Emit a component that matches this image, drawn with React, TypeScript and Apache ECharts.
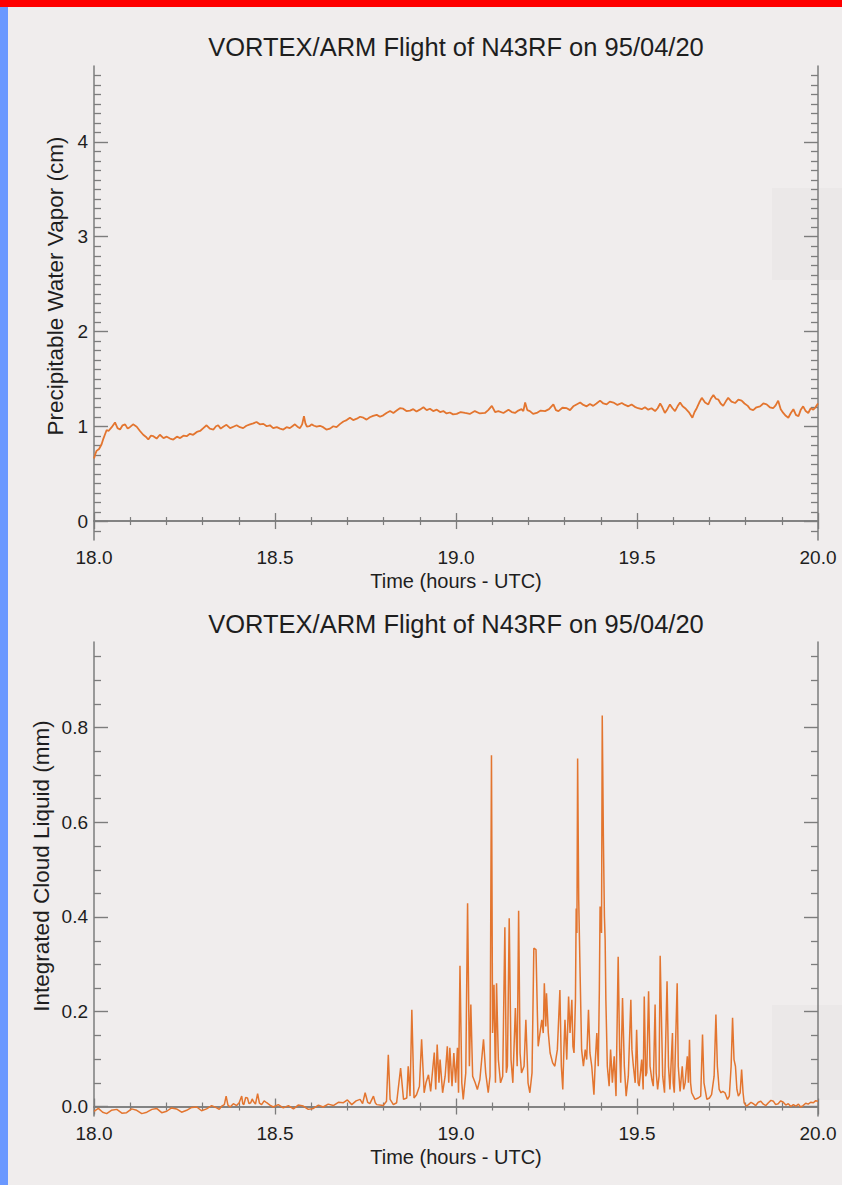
import React, { useEffect, useRef } from "react";
import * as echarts from "echarts";

const FONT = '"Liberation Sans", Arial, Helvetica, sans-serif';
const TITLE = "VORTEX/ARM Flight of N43RF on 95/04/20";
const X_NAME = "Time (hours - UTC)";
const PWV_NAME = "Precipitable Water Vapor (cm)";
const CLW_NAME = "Integrated Cloud Liquid (mm)";

// time axis (hours UTC)
const timeMin = 18.0;
const timeMax = 20.0;
const timeStep = 0.5;

// precipitable water vapour axis (cm)
const pwvMin = -0.2;
const pwvMax = 4.8;
const pwvTicks = [0, 1, 2, 3, 4];
const pwvMinorStep = 0.1;

// integrated cloud liquid axis (mm)
const clwMin = -0.02;
const clwMax = 0.98;
const clwTicks = [0, 0.2, 0.4, 0.6, 0.8];
const clwMinorStep = 0.05;

// [time (h), precipitable water vapour (cm)]
const pwvReadings: [number, number][] = [
  [18.0, 0.66], [18.004, 0.71], [18.007, 0.74], [18.014, 0.76], [18.021, 0.81],
  [18.026, 0.87], [18.03, 0.91], [18.035, 0.96], [18.04, 0.95], [18.049, 0.99],
  [18.058, 1.04], [18.065, 0.98], [18.072, 0.965], [18.079, 1.01], [18.086, 1.02],
  [18.093, 0.975], [18.099, 0.99], [18.108, 1.02], [18.118, 0.995], [18.127, 0.95],
  [18.136, 0.91], [18.143, 0.89], [18.15, 0.86], [18.157, 0.9], [18.164, 0.895],
  [18.173, 0.87], [18.182, 0.91], [18.192, 0.875], [18.201, 0.89], [18.21, 0.87],
  [18.219, 0.86], [18.229, 0.89], [18.238, 0.875], [18.247, 0.9], [18.256, 0.895],
  [18.265, 0.92], [18.274, 0.91], [18.284, 0.94], [18.293, 0.95], [18.302, 0.98],
  [18.311, 1.01], [18.32, 0.975], [18.33, 0.965], [18.337, 1.0], [18.343, 1.01],
  [18.35, 0.975], [18.357, 0.995], [18.366, 1.015], [18.376, 0.98], [18.385, 0.995],
  [18.394, 1.01], [18.403, 0.99], [18.412, 0.98], [18.421, 1.005], [18.431, 1.02],
  [18.44, 1.03], [18.449, 1.045], [18.458, 1.02], [18.468, 1.025], [18.477, 1.0],
  [18.486, 1.01], [18.495, 0.98], [18.505, 0.99], [18.514, 0.975], [18.523, 0.965],
  [18.532, 0.99], [18.541, 0.98], [18.548, 1.0], [18.555, 1.02], [18.562, 0.995],
  [18.569, 0.98], [18.575, 1.02], [18.58, 1.105], [18.584, 1.03], [18.588, 0.995],
  [18.595, 1.0], [18.601, 1.02], [18.608, 1.005], [18.615, 0.995], [18.624, 1.005],
  [18.633, 0.99], [18.642, 0.965], [18.652, 0.975], [18.661, 1.0], [18.67, 0.99],
  [18.68, 1.025], [18.689, 1.05], [18.698, 1.065], [18.707, 1.09], [18.716, 1.065],
  [18.726, 1.08], [18.735, 1.1], [18.744, 1.09], [18.753, 1.07], [18.762, 1.095],
  [18.771, 1.11], [18.781, 1.12], [18.79, 1.1], [18.799, 1.115], [18.808, 1.14],
  [18.818, 1.16], [18.827, 1.14], [18.836, 1.165], [18.845, 1.19], [18.854, 1.185],
  [18.863, 1.16], [18.873, 1.165], [18.882, 1.18], [18.891, 1.155], [18.9, 1.175],
  [18.91, 1.2], [18.919, 1.17], [18.928, 1.185], [18.937, 1.16], [18.947, 1.175],
  [18.956, 1.15], [18.965, 1.16], [18.974, 1.135], [18.983, 1.145], [18.992, 1.125],
  [19.002, 1.13], [19.013, 1.15], [19.025, 1.14], [19.038, 1.13], [19.052, 1.16],
  [19.066, 1.135], [19.08, 1.14], [19.089, 1.17], [19.099, 1.215], [19.108, 1.15],
  [19.117, 1.16], [19.131, 1.14], [19.145, 1.175], [19.154, 1.15], [19.163, 1.14],
  [19.172, 1.165], [19.181, 1.18], [19.186, 1.16], [19.191, 1.25], [19.197, 1.17],
  [19.204, 1.16], [19.213, 1.13], [19.223, 1.14], [19.234, 1.165], [19.246, 1.16],
  [19.257, 1.18], [19.269, 1.23], [19.276, 1.17], [19.283, 1.16], [19.294, 1.195],
  [19.306, 1.19], [19.315, 1.17], [19.324, 1.21], [19.333, 1.23], [19.343, 1.25],
  [19.352, 1.225], [19.361, 1.21], [19.37, 1.235], [19.379, 1.215], [19.388, 1.24],
  [19.398, 1.27], [19.407, 1.24], [19.416, 1.23], [19.425, 1.26], [19.435, 1.25],
  [19.446, 1.225], [19.458, 1.245], [19.467, 1.225], [19.476, 1.21], [19.485, 1.23],
  [19.494, 1.205], [19.503, 1.19], [19.513, 1.18], [19.522, 1.2], [19.531, 1.175],
  [19.54, 1.19], [19.55, 1.16], [19.557, 1.19], [19.564, 1.24], [19.57, 1.2],
  [19.577, 1.14], [19.584, 1.18], [19.591, 1.23], [19.598, 1.19], [19.605, 1.16],
  [19.612, 1.21], [19.619, 1.25], [19.626, 1.21], [19.633, 1.19], [19.643, 1.15],
  [19.653, 1.09], [19.659, 1.15], [19.665, 1.19], [19.672, 1.25], [19.679, 1.3],
  [19.688, 1.25], [19.697, 1.23], [19.704, 1.29], [19.711, 1.33], [19.718, 1.29],
  [19.725, 1.28], [19.731, 1.24], [19.738, 1.215], [19.745, 1.26], [19.752, 1.3],
  [19.761, 1.26], [19.771, 1.245], [19.78, 1.28], [19.789, 1.27], [19.797, 1.24],
  [19.806, 1.215], [19.813, 1.18], [19.821, 1.17], [19.83, 1.2], [19.84, 1.21],
  [19.849, 1.24], [19.858, 1.23], [19.867, 1.2], [19.876, 1.19], [19.883, 1.22],
  [19.89, 1.27], [19.897, 1.18], [19.904, 1.14], [19.911, 1.11], [19.918, 1.09],
  [19.925, 1.14], [19.932, 1.18], [19.939, 1.12], [19.946, 1.105], [19.952, 1.17],
  [19.959, 1.21], [19.966, 1.16], [19.973, 1.14], [19.98, 1.19], [19.987, 1.175],
  [19.993, 1.2], [20.0, 1.24],
];

// [time (h), integrated cloud liquid (mm)]
const clwReadings: [number, number][] = [
  [18.0, -0.01], [18.012, -0.004], [18.024, -0.012], [18.035, -0.015], [18.048, -0.008],
  [18.063, -0.006], [18.077, -0.014], [18.09, -0.013], [18.104, -0.005], [18.118, -0.008],
  [18.132, -0.015], [18.146, -0.012], [18.16, -0.006], [18.173, -0.004], [18.187, -0.013],
  [18.201, -0.01], [18.214, -0.003], [18.228, -0.005], [18.242, -0.012], [18.256, -0.008],
  [18.27, -0.002], [18.284, -0.001], [18.297, -0.009], [18.311, -0.005], [18.325, 0.002],
  [18.339, -0.003], [18.346, -0.006], [18.353, 0.001], [18.36, 0.004], [18.365, 0.022],
  [18.37, 0.003], [18.376, -0.001], [18.385, 0.006], [18.394, 0.002], [18.401, 0.008],
  [18.408, 0.022], [18.411, 0.006], [18.414, 0.004], [18.419, 0.019], [18.424, 0.018],
  [18.428, 0.006], [18.433, 0.008], [18.437, 0.016], [18.44, 0.011], [18.446, 0.005],
  [18.452, 0.027], [18.457, 0.007], [18.463, 0.004], [18.47, 0.012], [18.477, 0.008],
  [18.486, 0.003], [18.495, -0.001], [18.509, 0.004], [18.523, -0.003], [18.537, 0.002],
  [18.551, -0.005], [18.564, 0.003], [18.578, 0.001], [18.592, -0.006], [18.606, -0.004],
  [18.62, 0.003], [18.633, -0.001], [18.647, 0.005], [18.661, 0.002], [18.675, 0.009],
  [18.689, 0.008], [18.7, 0.014], [18.712, 0.004], [18.724, 0.012], [18.735, 0.015],
  [18.742, 0.006], [18.749, 0.029], [18.756, 0.009], [18.762, 0.006], [18.767, 0.014],
  [18.772, 0.022], [18.777, 0.008], [18.781, 0.004], [18.799, 0.002], [18.808, 0.011],
  [18.813, 0.109], [18.818, 0.015], [18.827, 0.004], [18.836, 0.008], [18.847, 0.081],
  [18.855, 0.015], [18.864, 0.018], [18.868, 0.085], [18.873, 0.022], [18.878, 0.204],
  [18.884, 0.018], [18.891, 0.025], [18.899, 0.043], [18.905, 0.142], [18.912, 0.029],
  [18.917, 0.05], [18.924, 0.067], [18.93, 0.032], [18.94, 0.114], [18.944, 0.036],
  [18.948, 0.131], [18.953, 0.05], [18.956, 0.099], [18.963, 0.029], [18.97, 0.064],
  [18.976, 0.127], [18.98, 0.05], [18.983, 0.124], [18.989, 0.043], [18.994, 0.113],
  [18.999, 0.05], [19.004, 0.124], [19.007, 0.029], [19.011, 0.297], [19.016, 0.05],
  [19.02, 0.015], [19.027, 0.071], [19.032, 0.429], [19.037, 0.085], [19.041, 0.215],
  [19.046, 0.064], [19.053, 0.05], [19.059, 0.036], [19.066, 0.057], [19.076, 0.142],
  [19.082, 0.071], [19.089, 0.029], [19.094, 0.064], [19.098, 0.741], [19.101, 0.155],
  [19.105, 0.257], [19.109, 0.05], [19.112, 0.26], [19.117, 0.099], [19.123, 0.05],
  [19.129, 0.064], [19.135, 0.378], [19.139, 0.071], [19.142, 0.085], [19.147, 0.397],
  [19.152, 0.099], [19.157, 0.05], [19.164, 0.208], [19.169, 0.085], [19.173, 0.413],
  [19.177, 0.113], [19.181, 0.071], [19.188, 0.085], [19.193, 0.183], [19.199, 0.05],
  [19.204, 0.029], [19.21, 0.071], [19.215, 0.334], [19.221, 0.331], [19.225, 0.19],
  [19.227, 0.127], [19.232, 0.155], [19.237, 0.183], [19.241, 0.155], [19.244, 0.26],
  [19.248, 0.169], [19.25, 0.239], [19.255, 0.155], [19.26, 0.113], [19.267, 0.092],
  [19.273, 0.085], [19.28, 0.12], [19.287, 0.246], [19.291, 0.085], [19.295, 0.036],
  [19.298, 0.12], [19.301, 0.183], [19.306, 0.099], [19.311, 0.232], [19.315, 0.155],
  [19.32, 0.225], [19.323, 0.127], [19.326, 0.113], [19.33, 0.225], [19.332, 0.418],
  [19.334, 0.366], [19.336, 0.734], [19.339, 0.436], [19.343, 0.274], [19.347, 0.12],
  [19.352, 0.085], [19.357, 0.12], [19.361, 0.099], [19.366, 0.204], [19.37, 0.113],
  [19.375, 0.085], [19.381, 0.025], [19.385, 0.099], [19.389, 0.155], [19.393, 0.085],
  [19.396, 0.246], [19.398, 0.422], [19.402, 0.366], [19.404, 0.825], [19.407, 0.576],
  [19.41, 0.401], [19.412, 0.352], [19.414, 0.225], [19.418, 0.085], [19.423, 0.043],
  [19.427, 0.12], [19.432, 0.05], [19.437, 0.106], [19.442, 0.022], [19.448, 0.316],
  [19.452, 0.12], [19.455, 0.05], [19.46, 0.229], [19.465, 0.085], [19.47, 0.022],
  [19.476, 0.064], [19.483, 0.225], [19.486, 0.12], [19.49, 0.085], [19.495, 0.05],
  [19.499, 0.162], [19.503, 0.05], [19.506, 0.043], [19.513, 0.099], [19.517, 0.036],
  [19.52, 0.232], [19.524, 0.064], [19.527, 0.071], [19.532, 0.243], [19.536, 0.085],
  [19.541, 0.057], [19.545, 0.043], [19.55, 0.215], [19.553, 0.071], [19.557, 0.036],
  [19.561, 0.064], [19.564, 0.318], [19.568, 0.169], [19.571, 0.064], [19.576, 0.029],
  [19.583, 0.264], [19.587, 0.085], [19.591, 0.036], [19.598, 0.155], [19.6, 0.05],
  [19.603, 0.029], [19.611, 0.26], [19.614, 0.085], [19.619, 0.032], [19.625, 0.085],
  [19.629, 0.036], [19.633, 0.05], [19.639, 0.106], [19.642, 0.05], [19.645, 0.141],
  [19.648, 0.05], [19.651, 0.029], [19.66, 0.015], [19.669, 0.018], [19.676, 0.022],
  [19.681, 0.152], [19.685, 0.05], [19.693, 0.015], [19.7, 0.018], [19.706, 0.025],
  [19.713, 0.064], [19.718, 0.194], [19.722, 0.085], [19.727, 0.036], [19.732, 0.029],
  [19.737, 0.032], [19.743, 0.029], [19.75, 0.015], [19.755, 0.022], [19.76, 0.085],
  [19.764, 0.187], [19.768, 0.099], [19.772, 0.085], [19.776, 0.036], [19.78, 0.022],
  [19.785, 0.029], [19.789, 0.078], [19.793, 0.029], [19.796, 0.008], [19.802, 0.001],
  [19.808, 0.004], [19.815, 0.009], [19.821, 0.006], [19.828, 0.002], [19.835, 0.009],
  [19.842, 0.011], [19.849, 0.005], [19.856, 0.002], [19.863, 0.008], [19.87, 0.013],
  [19.877, 0.011], [19.883, 0.004], [19.89, 0.006], [19.897, 0.012], [19.904, 0.009],
  [19.911, 0.003], [19.918, 0.006], [19.925, 0.0], [19.932, 0.004], [19.939, 0.001],
  [19.946, 0.005], [19.952, -0.001], [19.959, 0.002], [19.966, 0.007], [19.973, 0.005],
  [19.98, 0.009], [19.987, 0.008], [19.993, 0.012], [20.0, 0.011],
];

const PAGE_W = 842;
const PAGE_H = 1185;
const PAPER = "#f0eded";
const AXIS_GREY = "#7c7c7c";
const TEXT = "#1e1e1e";
const TRACE = "#e3752f";

const PLOT_LEFT = 94;
const PLOT_W = 724;
const PLOT_H = 474;
const PLOT_TOPS = [66, 642];

function stepsBetween(lo: number, hi: number, step: number): number[] {
  const out: number[] = [];
  const n = Math.round((hi - lo) / step);
  for (let i = 0; i <= n; i++) out.push(+(lo + i * step).toFixed(3));
  return out;
}

function xAxesFor(gridIndex: number) {
  const common = {
    type: "value",
    gridIndex,
    min: timeMin,
    max: timeMax,
    interval: timeStep,
    axisLine: { show: true, lineStyle: { color: AXIS_GREY, width: 1.5 } },
    axisTick: { show: true, inside: true, length: 8, lineStyle: { color: AXIS_GREY, width: 1.3 } },
    minorTick: { show: true, splitNumber: 5, length: 4, lineStyle: { color: AXIS_GREY, width: 1.2 } },
    splitLine: { show: false },
    minorSplitLine: { show: false },
  };
  return [
    {
      ...common,
      position: "bottom",
      name: X_NAME,
      nameLocation: "middle",
      nameGap: 31,
      nameTextStyle: { fontFamily: FONT, fontSize: 20, color: TEXT },
      axisLabel: {
        show: true,
        margin: 8,
        fontFamily: FONT,
        fontSize: 19,
        color: TEXT,
        formatter: (v: number) => v.toFixed(1),
      },
    },
    { ...common, position: "top", axisLabel: { show: false } },
  ];
}

function yAxesFor(gridIndex: number, min: number, max: number, majors: number[], digits: number) {
  const make = (position: string, labels: boolean) => ({
    type: "value",
    gridIndex,
    min,
    max,
    position,
    splitLine: { show: false },
    axisLine: { show: true, lineStyle: { color: AXIS_GREY, width: 1.5 } },
    axisTick: {
      show: true,
      inside: true,
      length: 14,
      customValues: majors,
      lineStyle: { color: AXIS_GREY, width: 1.4 },
    },
    axisLabel: {
      show: labels,
      customValues: majors,
      margin: 6,
      fontFamily: FONT,
      fontSize: 19,
      color: TEXT,
      formatter: (v: number) => v.toFixed(digits),
    },
  });
  return [make("left", true), make("right", false)];
}

export default function App() {
  const ref = useRef<HTMLDivElement>(null);

  useEffect(() => {
    if (!ref.current) return;
    const chart = echarts.init(ref.current, null, { renderer: "svg" });

    chart.setOption({
      animation: false,
      backgroundColor: PAPER,
      grid: PLOT_TOPS.map((top) => ({
        left: PLOT_LEFT,
        top,
        width: PLOT_W,
        height: PLOT_H,
        containLabel: false,
      })),
      xAxis: [...xAxesFor(0), ...xAxesFor(1)],
      yAxis: [
        ...yAxesFor(0, pwvMin, pwvMax, pwvTicks, 0),
        ...yAxesFor(1, clwMin, clwMax, clwTicks, 1),
      ],
      series: [
        {
          name: PWV_NAME,
          type: "line",
          xAxisIndex: 0,
          yAxisIndex: 0,
          data: pwvReadings,
          showSymbol: false,
          clip: true,
          lineStyle: { color: TRACE, width: 1.8 },
        },
        {
          name: CLW_NAME,
          type: "line",
          xAxisIndex: 2,
          yAxisIndex: 2,
          data: clwReadings,
          showSymbol: false,
          clip: true,
          lineStyle: { color: TRACE, width: 1.5 },
        },
      ],
    });

    // minor ticks on both vertical frame edges, placed through the axis scales
    const minorTicks = (xAxisIndex: number, yAxisIndex: number, values: number[], skip: number[]) => {
      const xl = chart.convertToPixel({ xAxisIndex }, timeMin) as number;
      const xr = chart.convertToPixel({ xAxisIndex }, timeMax) as number;
      const out: any[] = [];
      values
        .filter((v) => !skip.some((m) => Math.abs(m - v) < 1e-6))
        .forEach((v) => {
          const y = Math.round(chart.convertToPixel({ yAxisIndex }, v) as number) + 0.5;
          const style = { stroke: AXIS_GREY, lineWidth: 1.3 };
          out.push({ type: "line", silent: true, shape: { x1: xl, y1: y, x2: xl + 7, y2: y }, style });
          out.push({ type: "line", silent: true, shape: { x1: xr - 7, y1: y, x2: xr, y2: y }, style });
        });
      return out;
    };

    const titleText = (y: number) => ({
      type: "text",
      x: PLOT_LEFT + PLOT_W / 2,
      y,
      style: {
        text: TITLE,
        fontFamily: FONT,
        fontSize: 25.5,
        fill: TEXT,
        align: "center",
        verticalAlign: "middle",
      },
    });
    const yName = (text: string, x: number, y: number) => ({
      type: "text",
      x,
      y,
      rotation: Math.PI / 2,
      style: {
        text,
        fontFamily: FONT,
        fontSize: 22.5,
        fill: TEXT,
        align: "center",
        verticalAlign: "middle",
      },
    });

    chart.setOption({
      graphic: [
        { type: "rect", z: -1, shape: { x: 772, y: 188, width: 70, height: 92 }, style: { fill: "#ebe8e8" } },
        { type: "rect", z: -1, shape: { x: 772, y: 1005, width: 70, height: 95 }, style: { fill: "#ebe8e8" } },
        { type: "rect", shape: { x: 0, y: 0, width: PAGE_W, height: 7 }, style: { fill: "#ff0000" } },
        { type: "rect", shape: { x: 0, y: 7, width: 8, height: PAGE_H - 7 }, style: { fill: "#6a98ff" } },
        titleText(47),
        titleText(624),
        yName(PWV_NAME, 55, 286),
        yName(CLW_NAME, 41, 866),
        ...minorTicks(0, 0, stepsBetween(pwvMin + pwvMinorStep, pwvMax - pwvMinorStep, pwvMinorStep), pwvTicks),
        ...minorTicks(2, 2, stepsBetween(0, clwMax - 0.03, clwMinorStep), clwTicks),
      ],
    });

    return () => chart.dispose();
  }, []);

  return (
    <div
      style={{
        position: "absolute",
        left: 0,
        top: 0,
        width: PAGE_W,
        height: PAGE_H,
        background: PAPER,
      }}
    >
      <div ref={ref} style={{ width: PAGE_W, height: PAGE_H }} />
    </div>
  );
}
